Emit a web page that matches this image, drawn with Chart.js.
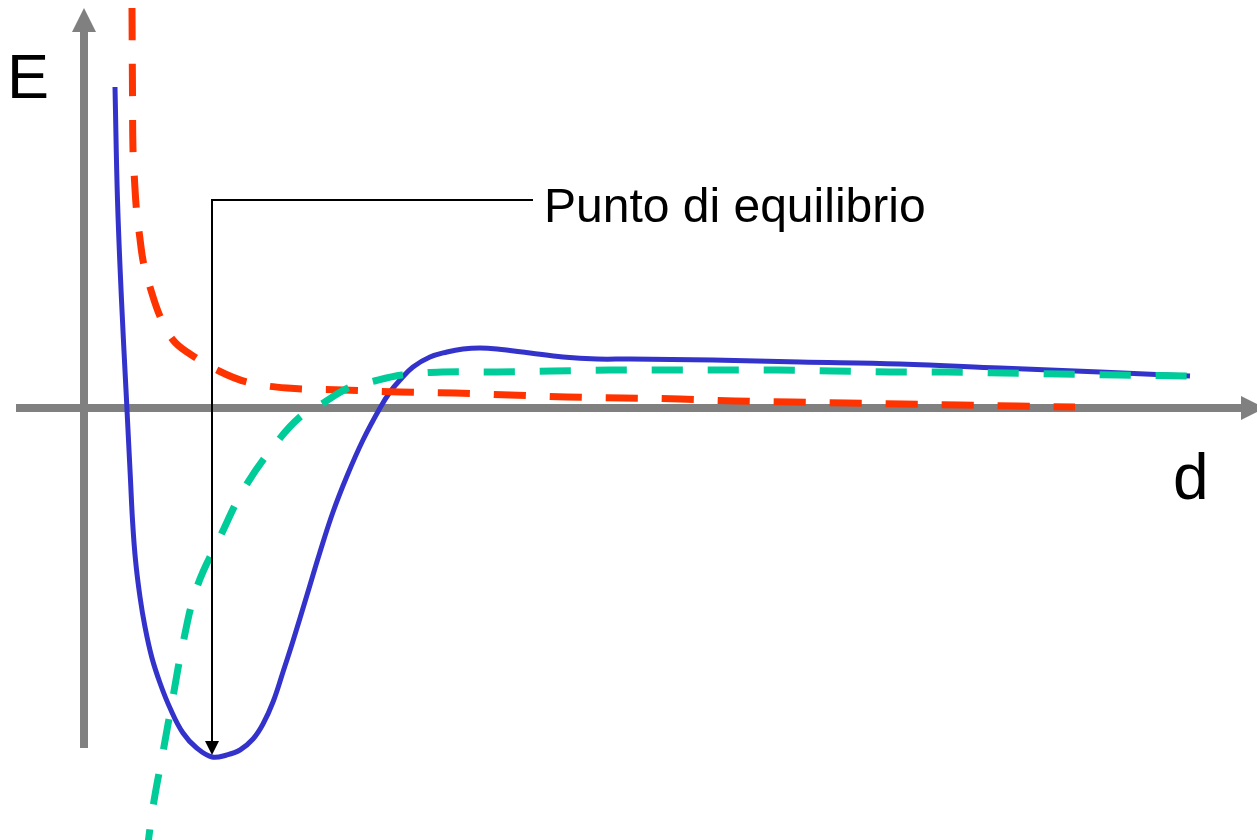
<!DOCTYPE html>
<html>
<head>
<meta charset="utf-8">
<title>Energia potenziale</title>
<script src="https://cdn.jsdelivr.net/npm/chart.js@4"></script>
<style>
  html, body { margin: 0; padding: 0; background: #ffffff; }
  #wrap { width: 1257px; height: 840px; }
</style>
</head>
<body>
<div id="wrap"><canvas id="c" width="1257" height="840"></canvas></div>
<script>
// Distance d (arbitrary units) and energy E for each curve.
const totalD = [0.31, 0.335, 0.375, 0.42, 0.44, 0.465, 0.485, 0.515, 0.56, 0.61, 0.677, 0.76, 0.86, 0.99, 1.127,
  1.28, 1.427, 1.56, 1.69, 1.79, 1.89, 1.99, 2.09, 2.23, 2.36, 2.49, 2.63, 2.79, 2.96, 3.06, 3.16, 3.29,
  3.46, 3.63, 3.79, 3.96, 4.13, 4.46, 4.79, 5.13, 5.46, 6.29, 7.16, 8.16, 9.16, 10.16, 11.06];
const totalE = [3.21, 2.08, 1.08, 0.18, -0.22, -0.72, -1.12, -1.52, -1.89, -2.19, -2.49, -2.75, -3.00, -3.25, -3.40,
  -3.49, -3.47, -3.42, -3.31, -3.16, -2.94, -2.64, -2.33, -1.87, -1.44, -1.04, -0.68, -0.32, 0.00, 0.16, 0.28, 0.41,
  0.51, 0.56, 0.59, 0.60, 0.59, 0.55, 0.51, 0.49, 0.49, 0.48, 0.46, 0.44, 0.40, 0.36, 0.32];

const repulsiveD = [0.48, 0.485, 0.49, 0.505, 0.525, 0.555, 0.595, 0.66, 0.767, 0.89, 1.03, 1.35, 1.63, 2.03, 2.59,
  3.16, 3.71, 4.26, 4.83, 5.39, 5.96, 6.51, 7.08, 7.63, 8.19, 8.76, 9.33, 9.91];
const repulsiveE = [4.00, 3.15, 2.58, 2.28, 1.98, 1.73, 1.45, 1.21, 0.90, 0.68, 0.56, 0.37, 0.26, 0.20, 0.18,
  0.16, 0.15, 0.13, 0.11, 0.10, 0.09, 0.07, 0.06, 0.05, 0.04, 0.03, 0.02, 0.01];

const attractiveD = [0.62, 0.69, 0.79, 0.89, 0.99, 1.13, 1.36, 1.61, 1.93, 2.16, 2.36, 2.64, 2.86, 3.18, 3.58,
  4.13, 4.69, 5.26, 5.81, 6.38, 6.94, 7.49, 8.06, 8.63, 9.19, 9.76, 10.33, 11.04];
const attractiveE = [-4.52, -3.99, -3.44, -2.89, -2.35, -1.79, -1.29, -0.79, -0.34, -0.09, 0.03, 0.20, 0.26, 0.33, 0.36,
  0.36, 0.37, 0.38, 0.38, 0.38, 0.38, 0.37, 0.36, 0.36, 0.35, 0.34, 0.33, 0.32];

// Visible window of the plane
const dRange = [-0.84, 11.73];
const eRange = [-4.32, 4.08];
// Extent of the drawn axis arrows
const dAxis = [-0.68, 11.81];
const eAxis = [-3.40, 4.00];

// Minimum of the total energy
const eqIndex = totalE.indexOf(Math.min(...totalE));
const equilibrium = { d: totalD[eqIndex], e: totalE[eqIndex] };
const labelLevelE = 2.08;
const labelStartD = 4.49;
const labelText = 'Punto di equilibrio';
const axisNames = { y: 'E', x: 'd' };

const pts = (xs, ys) => xs.map((x, i) => ({ x: x, y: ys[i] }));

const FONT = '"Liberation Sans", Arial, Helvetica, sans-serif';
const AXIS_GREY = '#808080';

const axesPlugin = {
  id: 'arrowAxes',
  beforeDatasetsDraw(chart) {
    const { ctx, scales: { x, y } } = chart;
    const x0 = x.getPixelForValue(0);
    const y0 = y.getPixelForValue(0);
    ctx.save();
    ctx.strokeStyle = AXIS_GREY;
    ctx.fillStyle = AXIS_GREY;
    ctx.lineWidth = 8;
    // vertical axis
    const yTop = y.getPixelForValue(eAxis[1]);
    const yBot = y.getPixelForValue(eAxis[0]);
    ctx.beginPath();
    ctx.moveTo(x0, yBot);
    ctx.lineTo(x0, yTop + 22);
    ctx.stroke();
    ctx.beginPath();
    ctx.moveTo(x0, yTop);
    ctx.lineTo(x0 - 12, yTop + 24);
    ctx.lineTo(x0 + 12, yTop + 24);
    ctx.closePath();
    ctx.fill();
    // horizontal axis
    const xL = x.getPixelForValue(dAxis[0]);
    const xR = x.getPixelForValue(dAxis[1]);
    ctx.beginPath();
    ctx.moveTo(xL, y0);
    ctx.lineTo(xR - 22, y0);
    ctx.stroke();
    ctx.beginPath();
    ctx.moveTo(xR, y0);
    ctx.lineTo(xR - 24, y0 - 12);
    ctx.lineTo(xR - 24, y0 + 12);
    ctx.closePath();
    ctx.fill();
    // axis names
    ctx.fillStyle = '#000000';
    ctx.textBaseline = 'alphabetic';
    ctx.textAlign = 'left';
    ctx.font = '63px ' + FONT;
    ctx.fillText(axisNames.y, x0 - 77, yTop + 90);
    ctx.font = '64px ' + FONT;
    ctx.fillText(axisNames.x, xR - 92, y0 + 91);
    ctx.restore();
  }
};

const annotationPlugin = {
  id: 'equilibriumNote',
  afterDatasetsDraw(chart) {
    const { ctx, scales: { x, y } } = chart;
    const px = x.getPixelForValue(equilibrium.d);
    const py = y.getPixelForValue(equilibrium.e) - 2;
    const ly = y.getPixelForValue(labelLevelE);
    const lx = x.getPixelForValue(labelStartD);
    ctx.save();
    ctx.strokeStyle = '#000000';
    ctx.fillStyle = '#000000';
    ctx.lineWidth = 2;
    ctx.beginPath();
    ctx.moveTo(lx, ly);
    ctx.lineTo(px, ly);
    ctx.lineTo(px, py - 12);
    ctx.stroke();
    ctx.beginPath();
    ctx.moveTo(px, py);
    ctx.lineTo(px - 7, py - 14);
    ctx.lineTo(px + 7, py - 14);
    ctx.closePath();
    ctx.fill();
    ctx.font = '48px ' + FONT;
    ctx.textAlign = 'left';
    ctx.textBaseline = 'alphabetic';
    ctx.fillText(labelText, lx + 11, ly + 22);
    ctx.restore();
  }
};

const lineStyle = {
  showLine: true,
  pointRadius: 0,
  tension: 0.4,
  fill: false
};

new Chart(document.getElementById('c'), {
  type: 'scatter',
  data: {
    datasets: [
      Object.assign({
        label: 'attrazione',
        data: pts(attractiveD, attractiveE),
        borderColor: '#00CC99',
        borderWidth: 7,
        borderDash: [31, 25]
      }, lineStyle),
      Object.assign({
        label: 'repulsione',
        data: pts(repulsiveD, repulsiveE),
        borderColor: '#FF3300',
        borderWidth: 7,
        borderDash: [32, 24]
      }, lineStyle),
      Object.assign({
        label: 'energia totale',
        data: pts(totalD, totalE),
        borderColor: '#3333CC',
        borderWidth: 5
      }, lineStyle)
    ]
  },
  options: {
    responsive: false,
    animation: false,
    layout: { padding: 0 },
    plugins: { legend: { display: false }, tooltip: { enabled: false } },
    events: [],
    scales: {
      x: { type: 'linear', min: dRange[0], max: dRange[1], display: false },
      y: { type: 'linear', min: eRange[0], max: eRange[1], display: false }
    }
  },
  plugins: [axesPlugin, annotationPlugin]
});
</script>
</body>
</html>
